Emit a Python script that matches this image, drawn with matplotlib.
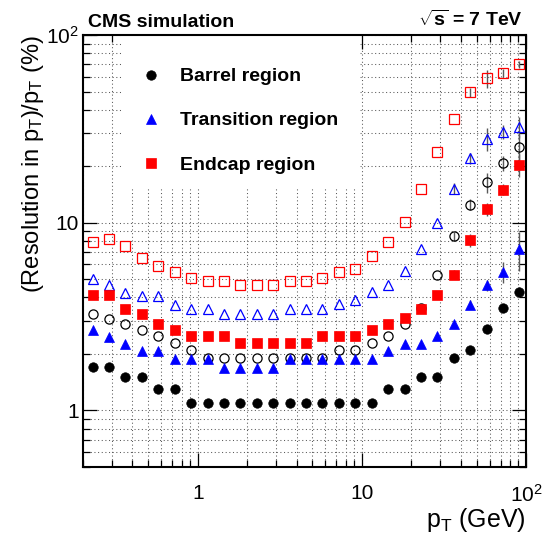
import numpy as np
import matplotlib
matplotlib.use("Agg")
import matplotlib.pyplot as plt
from matplotlib.ticker import LogLocator, FuncFormatter, NullFormatter
from matplotlib.patches import Rectangle

plt.rcParams['font.family'] = ['Liberation Sans', 'DejaVu Sans']
plt.rcParams['mathtext.fontset'] = 'custom'
plt.rcParams['mathtext.rm'] = 'Liberation Sans'
plt.rcParams['mathtext.it'] = 'Liberation Sans:italic'
plt.rcParams['mathtext.bf'] = 'Liberation Sans:bold'

# pT bin centres (GeV)
pt = [0.229, 0.288, 0.363, 0.457, 0.575, 0.724, 0.912, 1.148, 1.445, 1.820,
      2.291, 2.884, 3.631, 4.571, 5.754, 7.244, 9.120, 11.48, 14.45, 18.20,
      22.91, 28.84, 36.31, 45.71, 57.54, 72.44, 91.20]

# resolution (%) - filled = one definition, open = the other
barrel_full = [1.70, 1.70, 1.50, 1.50, 1.30, 1.30, 1.10, 1.10, 1.10, 1.10,
               1.10, 1.10, 1.10, 1.10, 1.10, 1.10, 1.10, 1.10, 1.30, 1.30,
               1.50, 1.50, 1.90, 2.10, 2.70, 3.50, 4.30]
barrel_open = [3.28, 3.08, 2.88, 2.68, 2.48, 2.28, 2.09, 1.90, 1.90, 1.90,
               1.90, 1.90, 1.90, 1.90, 1.90, 2.09, 2.09, 2.29, 2.49, 2.90,
               3.50, 5.29, 8.47, 12.5, 16.4, 20.8, 25.4]
trans_full = [2.67, 2.46, 2.27, 2.07, 2.07, 1.87, 1.87, 1.87, 1.69, 1.69,
              1.69, 1.69, 1.89, 1.89, 1.89, 1.89, 1.89, 1.89, 2.07, 2.27,
              2.27, 2.48, 2.90, 3.66, 4.64, 5.46, 7.22]
trans_open = [5.04, 4.68, 4.24, 4.06, 4.06, 3.66, 3.49, 3.49, 3.25, 3.25,
              3.25, 3.25, 3.49, 3.49, 3.49, 3.67, 3.89, 4.27, 4.66, 5.55,
              7.22, 10.0, 15.2, 22.0, 28.1, 30.5, 32.4]
endcap_full = [4.10, 4.10, 3.49, 3.28, 2.90, 2.69, 2.48, 2.48, 2.48, 2.29,
               2.29, 2.29, 2.29, 2.29, 2.48, 2.48, 2.48, 2.69, 2.90, 3.10,
               3.49, 4.10, 5.29, 8.07, 11.8, 15.0, 20.3]
endcap_open = [7.90, 8.24, 7.50, 6.49, 5.86, 5.46, 5.08, 4.89, 4.89, 4.68,
               4.68, 4.68, 4.88, 4.88, 5.08, 5.46, 5.69, 6.64, 7.90, 10.1,
               15.2, 23.8, 35.6, 49.5, 58.8, 62.5, 69.8]

# statistical errors, only visible for the last bins (from bin 20 on)
first_err = 20
barrel_full_err = [0, 0, 0, 0, 0, 0.15, 0.25]
barrel_open_err = [0, 0, 0.5, 0.8, 2.0, 2.0, 4.0]
trans_full_err = [0, 0, 0, 0.2, 0.3, 0.7, 1.7]
trans_open_err = [0, 0, 1.0, 1.5, 4.0, 2.5, 4.0]
endcap_full_err = [0, 0, 0.3, 0.6, 1.0, 1.0, 2.8]
endcap_open_err = [0, 0, 0, 2.5, 6.5, 3.0, 3.0]

series = [
    # y, err, marker, colour, filled, size, label
    (barrel_open, barrel_open_err, 'o', 'black', False, 6.6, None),
    (trans_open, trans_open_err, '^', 'blue', False, 7.0, None),
    (endcap_open, endcap_open_err, 's', 'red', False, 6.6, None),
    (trans_full, trans_full_err, '^', 'blue', True, 7.0, 'Transition region'),
    (endcap_full, endcap_full_err, 's', 'red', True, 6.6, 'Endcap region'),
    (barrel_full, barrel_full_err, 'o', 'black', True, 6.8, 'Barrel region'),
]

fig = plt.figure(figsize=(5.45, 5.33), dpi=100)
ax = fig.add_axes([83/545, 1-467/533, 443/545, 432/533])

ax.set_xscale('log')
ax.set_yscale('log')
ax.set_xlim(0.2, 100)
ax.set_ylim(0.5, 100)

handles = {}
pt_hi = pt[first_err:]
for y, err, mk, col, filled, ms, lab in series:
    ax.errorbar(pt_hi, y[first_err:], yerr=err, fmt='none', ecolor='0.35',
                elinewidth=1.0, zorder=3)
    h, = ax.plot(pt, y, linestyle='none', marker=mk, ms=ms,
                 markerfacecolor=col if filled else 'none',
                 markeredgecolor=col, markeredgewidth=0.9 if not filled else 0.5,
                 zorder=4)
    if lab:
        handles[lab] = h

# grid on every decade and sub-decade
ax.xaxis.set_major_locator(LogLocator(base=10, numticks=10))
ax.xaxis.set_minor_locator(LogLocator(base=10, subs=np.arange(2, 10), numticks=20))
ax.yaxis.set_major_locator(LogLocator(base=10, numticks=10))
ax.yaxis.set_minor_locator(LogLocator(base=10, subs=np.arange(2, 10), numticks=20))


def fmt(v, pos):
    if abs(v - 1) < 1e-9:
        return '1'
    if abs(v - 10) < 1e-9:
        return '10'
    if abs(v - 100) < 1e-9:
        return r'$10^{2}$'
    return ''


ax.xaxis.set_major_formatter(FuncFormatter(fmt))
ax.yaxis.set_major_formatter(FuncFormatter(fmt))
ax.xaxis.set_minor_formatter(NullFormatter())
ax.yaxis.set_minor_formatter(NullFormatter())

ax.set_axisbelow(True)
ax.grid(True, which='both', linestyle=(0, (1, 2.5)), color='0.35', linewidth=0.75)
ax.tick_params(which='both', direction='in', top=True, right=True, labelsize=15)
ax.tick_params(which='major', length=10, width=0.9)
ax.tick_params(which='minor', length=5, width=0.9)
ax.tick_params(axis='x', pad=12)
ax.tick_params(axis='y', pad=3)
for s in ax.spines.values():
    s.set_linewidth(1.5)

ax.set_xlabel(r'p$_{\rm T}$ (GeV)', fontsize=18, loc='right', labelpad=0)
ax.set_ylabel(r'(Resolution in p$_{\rm T}$)/p$_{\rm T}$ (%)', fontsize=17,
              loc='top', labelpad=0)

# white legend area hiding the grid
ax.add_patch(Rectangle((38/443, 1-152/432), 239/443, 151/432,
                       transform=ax.transAxes, facecolor='white',
                       edgecolor='none', zorder=1.5))
labels = ['Barrel region', 'Transition region', 'Endcap region']
leg = ax.legend([handles[l] for l in labels], labels, loc='upper left',
                bbox_to_anchor=(0.131, 0.924), frameon=False, numpoints=1,
                handlelength=1.0, handletextpad=1.0, borderpad=0,
                borderaxespad=0, labelspacing=1.36,
                prop={'weight': 'bold', 'size': 14})

fig.text(88/545, 1-27/533, 'CMS simulation', fontsize=14, fontweight='bold',
         ha='left', va='baseline')
fig.text(523/545, 1-26/533, r'$\sqrt{\mathbf{s}}$ = 7 TeV', fontsize=14,
         fontweight='bold', ha='right', va='baseline')

fig.savefig('out.png', dpi=100)
